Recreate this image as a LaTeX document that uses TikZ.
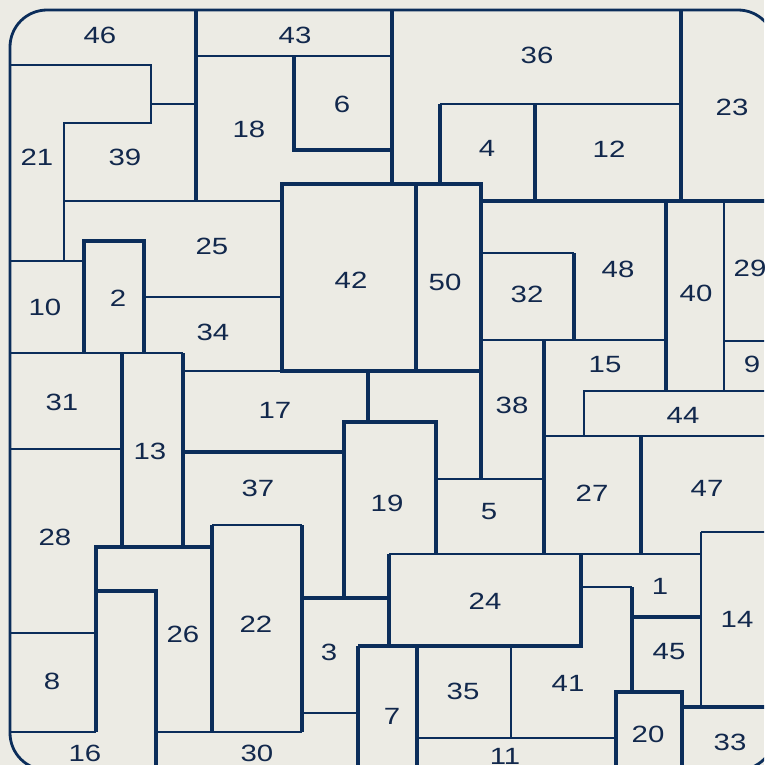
\documentclass[tikz,border=0pt]{standalone}
\usepackage{fontspec}
\newfontfamily\labfont[FakeStretch=1.25]{Liberation Sans}
\definecolor{bg}{HTML}{ECEBE4}
\definecolor{ink}{HTML}{0B2D5A}
\definecolor{txt}{HTML}{12284C}
\tikzset{
  wallA/.style={draw=ink, line width=3.2pt, line cap=square},
  wallB/.style={draw=ink, line width=1.6pt, line cap=square},
  border/.style={draw=ink, line width=2.8pt},
  lab/.style={text=txt, font=\labfont\fontsize{23.5}{28}\selectfont, inner sep=0pt}
}
\begin{document}
\begin{tikzpicture}[x=1pt,y=-1pt]
\useasboundingbox (0,0) rectangle (764,765);
\clip (0,0) rectangle (764,765);
\fill[bg] (0,0) rectangle (764,765);
% thin walls
\path[wallB] (196,56)--(392,56);
\path[wallB] (10,65)--(151,65)--(151,123)--(64,123)--(64,261);
\path[wallB] (151,104)--(196,104);
\path[wallB] (64,201)--(282,201);
\path[wallB] (10,261)--(84,261);
\path[wallB] (144,297)--(282,297);
\path[wallB] (10,353)--(183,353);
\path[wallB] (183,371)--(282,371);
\path[wallB] (440,104)--(681,104);
\path[wallB] (481,253)--(574,253);
\path[wallB] (481,340)--(666,340);
\path[wallB] (724,201)--(724,391);
\path[wallB] (724,341)--(775,341);
\path[wallB] (584,436)--(584,391)--(775,391);
\path[wallB] (544,436)--(775,436);
\path[wallB] (436,479)--(544,479);
\path[wallB] (389,554)--(701,554);
\path[wallB] (701,532)--(701,707);
\path[wallB] (701,532)--(775,532);
\path[wallB] (10,449)--(122,449);
\path[wallB] (212,525)--(302,525);
\path[wallB] (10,633)--(96,633);
\path[wallB] (10,732)--(96,732);
\path[wallB] (156,732)--(302,732);
\path[wallB] (302,713)--(358,713);
\path[wallB] (417,738)--(616,738);
\path[wallB] (511,646)--(511,738);
\path[wallB] (581,587)--(632,587);
% thick walls
\path[wallA] (196,10)--(196,201);
\path[wallA] (392,10)--(392,184);
\path[wallA] (294,56)--(294,150)--(392,150);
\path[wallA] (440,104)--(440,184);
\path[wallA] (535,104)--(535,201);
\path[wallA] (681,10)--(681,201);
\path[wallA] (481,201)--(775,201);
\path[wallA] (282,184) rectangle (481,371);
\path[wallA] (416,184)--(416,371);
\path[wallA] (481,371)--(481,479);
\path[wallA] (84,353)--(84,241)--(144,241)--(144,353);
\path[wallA] (122,353)--(122,547);
\path[wallA] (183,353)--(183,547);
\path[wallA] (574,253)--(574,340);
\path[wallA] (666,201)--(666,391);
\path[wallA] (544,340)--(544,554);
\path[wallA] (641,436)--(641,554);
\path[wallA] (344,598)--(344,422)--(436,422)--(436,554);
\path[wallA] (183,452)--(344,452);
\path[wallA] (368,371)--(368,422);
\path[wallA] (212,525)--(212,732);
\path[wallA] (96,732)--(96,547)--(212,547);
\path[wallA] (96,591)--(156,591)--(156,775);
\path[wallA] (302,525)--(302,732);
\path[wallA] (302,598)--(389,598);
\path[wallA] (389,554)--(389,646);
\path[wallA] (358,646)--(581,646)--(581,554);
\path[wallA] (358,646)--(358,775);
\path[wallA] (417,646)--(417,775);
\path[wallA] (632,587)--(632,692);
\path[wallA] (632,617)--(701,617);
\path[wallA] (616,775)--(616,692)--(682,692)--(682,775);
\path[wallA] (682,707)--(775,707);
% border
\path[border, rounded corners=37pt] (10,10) rectangle (775,770);
% labels
\node[lab] (l46) at (100,35) {46};
\node[lab] (l43) at (295,35) {43};
\node[lab] (l36) at (537,55) {36};
\node[lab] (l23) at (732,107) {23};
\node[lab] (l18) at (249,129) {18};
\node[lab] (l6) at (342,104) {6};
\node[lab] (l21) at (37,157) {21};
\node[lab] (l39) at (125,157) {39};
\node[lab] (l4) at (487,148) {4};
\node[lab] (l12) at (609,149) {12};
\node[lab] (l25) at (212,246) {25};
\node[lab] (l42) at (351,280) {42};
\node[lab] (l50) at (445,282) {50};
\node[lab] (l32) at (527,294) {32};
\node[lab] (l48) at (618,269) {48};
\node[lab] (l40) at (696,293) {40};
\node[lab] (l29) at (750,268) {29};
\node[lab] (l10) at (45,307) {10};
\node[lab] (l2) at (118,298) {2};
\node[lab] (l34) at (213,332) {34};
\node[lab] (l15) at (605,365) {15};
\node[lab] (l9) at (752,364) {9};
\node[lab] (l31) at (62,402) {31};
\node[lab] (l17) at (275,410) {17};
\node[lab] (l38) at (512,405) {38};
\node[lab] (l44) at (683,415) {44};
\node[lab] (l13) at (150,451) {13};
\node[lab] (l37) at (258,488) {37};
\node[lab] (l19) at (387,503) {19};
\node[lab] (l27) at (592,493) {27};
\node[lab] (l47) at (707,488) {47};
\node[lab] (l5) at (489,512) {5};
\node[lab] (l28) at (55,537) {28};
\node[lab] (l24) at (485,601) {24};
\node[lab] (l1) at (660,586) {1};
\node[lab] (l14) at (737,619) {14};
\node[lab] (l26) at (183,634) {26};
\node[lab] (l22) at (256,624) {22};
\node[lab] (l3) at (329,652) {3};
\node[lab] (l45) at (669,652) {45};
\node[lab] (l8) at (52,681) {8};
\node[lab] (l35) at (463,691) {35};
\node[lab] (l41) at (568,683) {41};
\node[lab] (l7) at (392,716) {7};
\node[lab] (l20) at (648,734) {20};
\node[lab] (l33) at (730,742) {33};
\node[lab] (l16) at (85,753) {16};
\node[lab] (l30) at (257,753) {30};
\node[lab] (l11) at (505,756) {11};
\end{tikzpicture}
\end{document}
